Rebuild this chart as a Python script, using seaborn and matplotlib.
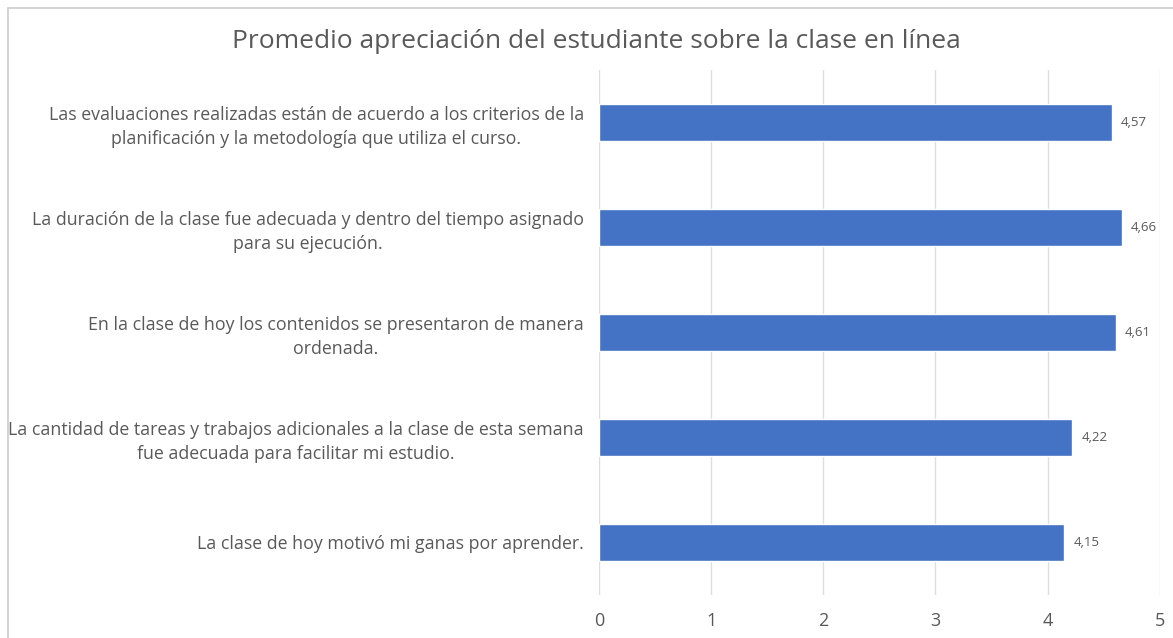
import matplotlib
matplotlib.use("Agg")
import matplotlib.pyplot as plt
import seaborn as sns
import pandas as pd
from matplotlib.patches import Rectangle

categorias = [
    "Las evaluaciones realizadas están de acuerdo a los criterios de la\nplanificación y la metodología que utiliza el curso.",
    "La duración de la clase fue adecuada y dentro del tiempo asignado\npara su ejecución.",
    "En la clase de hoy los contenidos se presentaron de manera\nordenada.",
    "La cantidad de tareas y trabajos adicionales a la clase de esta semana\nfue adecuada para facilitar mi estudio.",
    "La clase de hoy motivó mi ganas por aprender.",
]
promedios = [4.57, 4.66, 4.61, 4.22, 4.15]
ticks_x = [0, 1, 2, 3, 4, 5]
titulo = "Promedio apreciación del estudiante sobre la clase en línea"

df = pd.DataFrame({"pregunta": categorias, "promedio": promedios})

sns.set_style("white")
plt.rcParams['font.family'] = ['Open Sans', 'DejaVu Sans']
gris = "#595959"

fig = plt.figure(figsize=(11.73, 6.38), dpi=100)
ax = fig.add_axes([0.5107, 0.0674, 0.478, 0.823])

sns.barplot(data=df, x="promedio", y="pregunta", orient="h", color="#4472C4",
            width=0.35, saturation=1, ax=ax)

ax.set_xlim(0, 5)
ax.set_xticks(ticks_x)
ax.set_xticklabels([str(t) for t in ticks_x], fontsize=13, color=gris)
ax.xaxis.grid(True, color="#dedede", linewidth=1)
ax.set_axisbelow(True)
for s in ax.spines.values():
    s.set_visible(False)
ax.tick_params(axis="both", length=0)
ax.tick_params(axis="x", pad=12)
ax.tick_params(axis="y", pad=11)
ax.set_xlabel("")
ax.set_ylabel("")
for lab in ax.get_yticklabels():
    lab.set_multialignment("center")
    lab.set_fontsize(12.8)
    lab.set_linespacing(1.4)
    lab.set_color(gris)

for i, v in enumerate(promedios):
    ax.text(v + 0.08, i, f"{v:.2f}".replace(".", ","), va="center", ha="left",
            fontsize=9.5, color=gris)

fig.text(0.508, 0.935, titulo, ha="center", va="center", fontsize=19, color=gris)

fig.patches.append(Rectangle((8 / 1173, -0.1), 1.2, 1 - 8 / 638 + 0.1,
                             transform=fig.transFigure, fill=False,
                             edgecolor="#cccccc", linewidth=1.2))

fig.savefig("out.png", dpi=100)
